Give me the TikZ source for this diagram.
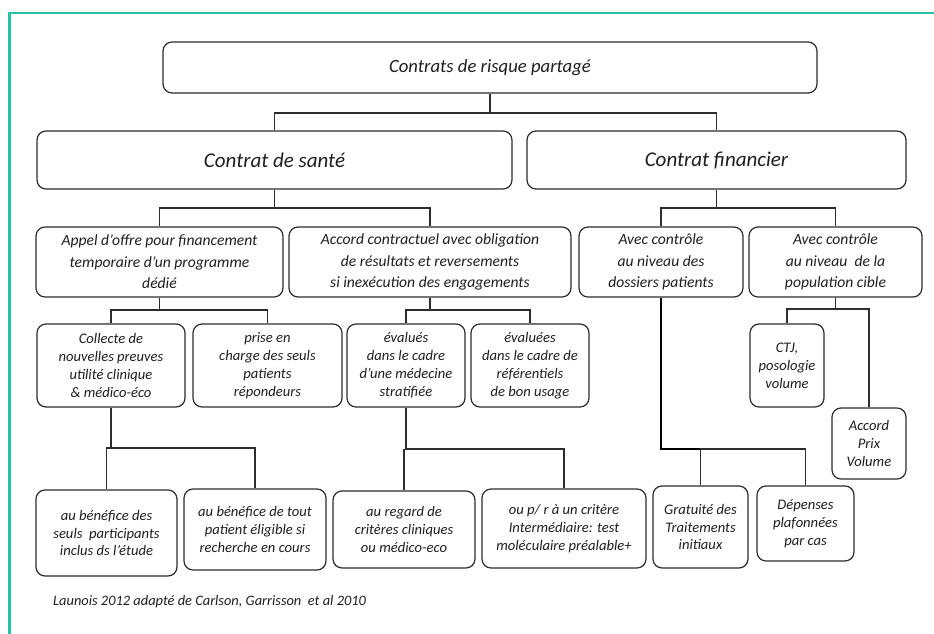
\documentclass[tikz,border=0pt]{standalone}
\usepackage{fontspec}
\setmainfont{Carlito}
\usetikzlibrary{calc}
\definecolor{frameteal}{RGB}{40,192,172}
\definecolor{boxline}{RGB}{45,45,45}
\definecolor{txt}{RGB}{30,30,30}
\newcommand\bx[7]{%
  \pgfmathsetmacro\bw{#4-#2}\pgfmathsetmacro\bh{#5-#3}%
  \pgfmathsetmacro\bcx{(#2+#4)/2}\pgfmathsetmacro\bcy{(#3+#5)/2}%
  \node[box,#6,minimum width=\bw pt,minimum height=\bh pt] (#1) at (\bcx,\bcy) {#7};}
\tikzset{
  box/.style={draw=boxline,line width=1.2pt,rounded corners=9pt,inner sep=0pt,align=center,text=txt},
  ftop/.style={font=\fontsize{18.7}{22}\selectfont\itshape},
  fmid/.style={font=\fontsize{21}{24}\selectfont\itshape},
  fthree/.style={font=\fontsize{15.6}{21.6}\selectfont\itshape},
  ffour/.style={font=\fontsize{14.6}{17.9}\selectfont\itshape},
  conn/.style={draw=boxline,line width=1.1pt},
  thickconn/.style={draw=black,line width=2pt}
}
\begin{document}
\begin{tikzpicture}[x=1pt,y=-1pt]
\useasboundingbox (0,0) rectangle (934,634);
\draw[frameteal,line width=2.6pt] (9.5,634) -- (9.5,13) -- (934,13);
% level 1
\bx{root}{163}{42}{817}{93}{ftop}{Contrats de risque partagé}
% level 2
\bx{sante}{37}{131}{512}{189}{fmid}{Contrat de santé}
\bx{fin}{527}{131}{906}{189}{fmid}{Contrat financier}
% level 3
\bx{appel}{36}{227}{283}{297}{fthree}{Appel d’offre pour financement\\temporaire d’un programme\\dédié}
\bx{accord}{289}{227}{571}{297}{fthree}{Accord contractuel avec obligation\\de résultats et reversements\\si inexécution des engagements}
\bx{dos}{579}{227}{743}{297}{fthree}{Avec contrôle\\au niveau des\\dossiers patients}
\bx{pop}{749}{227}{922}{297}{fthree}{Avec contrôle\\au niveau\ \ de la\\population cible}
% level 4
\bx{coll}{37}{324}{185}{407}{ffour}{Collecte de\\nouvelles preuves\\utilité clinique\\\& médico-éco}
\bx{prise}{193}{324}{342}{407}{ffour}{prise en\\charge des seuls\\patients\\répondeurs}
\bx{evm}{347}{324}{465}{407}{ffour}{évalués\\dans le cadre\\d'une médecine\\stratifiée}
\bx{evr}{471}{324}{589}{407}{ffour}{évaluées\\dans le cadre de\\référentiels\\de bon usage}
\bx{ctj}{750}{324}{824}{407}{ffour}{CTJ,\\posologie\\volume}
\bx{apv}{832}{408}{906}{479}{ffour}{Accord\\Prix\\Volume}
% level 5
\bx{seuls}{36}{490}{177}{576}{ffour}{au bénéfice des\\seuls\ \ participants\\inclus ds l’étude}
\bx{tout}{184}{489}{326}{570}{ffour}{au bénéfice de tout\\patient éligible si\\recherche en cours}
\bx{regard}{333}{491}{475}{568}{ffour}{au regard de\\critères cliniques\\ou médico-eco}
\bx{pr}{482}{489}{646}{568}{ffour}{ou p/ r à un critère\\Intermédiaire: test\\moléculaire préalable+}
\bx{grat}{653}{486}{748}{568}{ffour}{Gratuité des\\Traitements\\initiaux}
\bx{dep}{757}{486}{854}{561}{ffour}{Dépenses\\plafonnées\\par cas}
% citation
\node[anchor=west,inner sep=0pt,text=txt,font=\fontsize{14.4}{17}\selectfont\itshape] (cite) at (53,602) {Launois 2012 adapté de Carlson, Garrisson\ \ et al 2010};
% connectors
\draw[conn] (root.south) -- (root.south |- 0,113);
\draw[conn] (sante.north) |- (fin.north |- 0,113) -- (fin.north);
\draw[conn] (sante.south) -- (sante.south |- 0,208);
\draw[conn] (appel.north) |- (accord.north |- 0,208) -- (accord.north);
\draw[conn] (fin.south) -- (fin.south |- 0,208);
\draw[conn] (dos.north) |- (pop.north |- 0,208) -- (pop.north);
\draw[conn] (appel.south) -- (appel.south |- 0,310);
\draw[conn] (coll.north) |- (prise.north |- 0,310) -- (prise.north);
\draw[conn] (accord.south) -- (accord.south |- 0,310);
\draw[conn] (evm.north) |- (evr.north |- 0,310) -- (evr.north);
\draw[conn] (pop.south) -- (pop.south |- 0,309);
\draw[conn] (ctj.north) |- (apv.north |- 0,309) -- (apv.north);
\draw[conn] (coll.south) -- (coll.south |- 0,448);
\draw[conn] (seuls.north) |- (tout.north |- 0,448) -- (tout.north);
\draw[conn] (evm.south) |- (pr.north |- 0,449) -- (pr.north);
\draw[conn] (regard.north) -- (regard.north |- 0,449);
\draw[thickconn] (dos.south) |- (grat.north |- 0,449);
\draw[conn] (grat.north) |- (dep.north |- 0,449) -- (dep.north);
\end{tikzpicture}
\end{document}
